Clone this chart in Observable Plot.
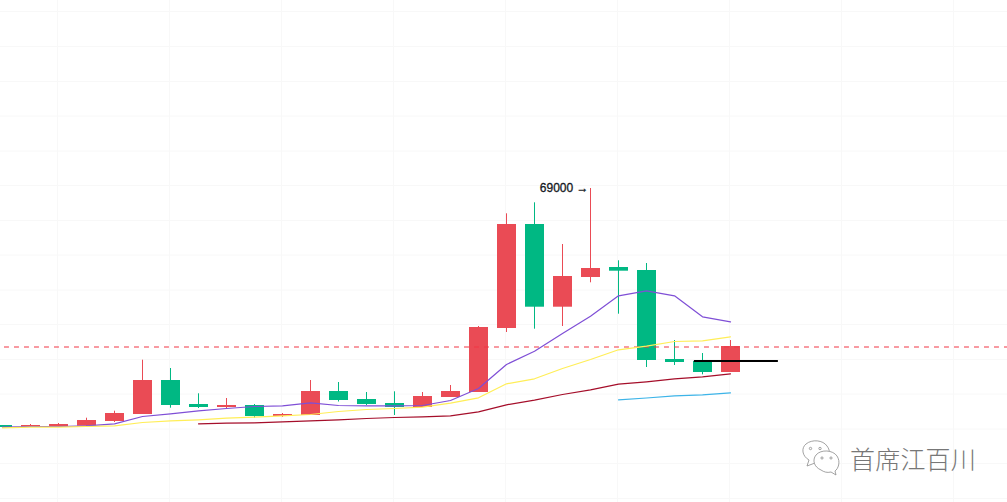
<!DOCTYPE html>
<html>
<head>
<meta charset="utf-8">
<script src="https://cdn.jsdelivr.net/npm/d3@7"></script>
<script src="https://cdn.jsdelivr.net/npm/@observablehq/plot@0.6"></script>
<style>
html,body{margin:0;padding:0;background:#fff;overflow:hidden}
#wrap{position:relative;width:1007px;height:502px}
#wm{position:absolute;left:850px;top:443px;font:25px/30px "Noto Sans CJK SC",sans-serif;font-weight:300;color:#777;letter-spacing:0.2px;white-space:nowrap}
#ic{position:absolute;left:799px;top:436px}
</style>
</head>
<body>
<div id="wrap">
<div id="chart"></div>
<svg id="ic" width="46" height="40" viewBox="0 0 46 40" fill="#fff" stroke="#8c8c8c" stroke-width="0.8">
  <path d="M10 24 C3 20 2 12 7 8 C13 3 24 4 28 10 C31 14 31 18 29 20 L22 30 L16 27 L8 30 Z"/>
  <circle cx="11.5" cy="12.5" r="1.2"/><circle cx="21" cy="12.5" r="1.2"/>
  <path d="M22 34 C15 31 13 24 17 19 C22 13 34 14 38 20 C42 26 39 33 36 35 L37 39 L32 36 C28 37 25 36 22 34 Z"/>
  <circle cx="23" cy="22" r="1.1"/><circle cx="32" cy="22" r="1.1"/>
</svg>
<div id="wm">首席江百川</div>
</div>
<script>
const opens  = [45300,45100,45150,45230,45700,46400,49800,47400,47100,47300,46200,46300,48700,47900,47500,47100,48100,48600,55000,65400,57130,60100,61100,60800,51900,51700,50600];
const closes = [45100,45300,45400,45800,46500,49800,47300,47100,47300,46200,46400,48700,47800,47400,47100,48200,48700,55100,65400,57130,60200,61000,60730,51800,51600,50600,53200];
const highs  = [45300,45400,45500,46030,46730,51830,51000,48470,48000,47400,46500,49800,49600,48600,48670,48600,49300,55200,66470,67570,63400,69000,61770,61500,53800,52500,53800];
const lows   = [45100,45100,45150,45230,45600,46400,47030,47000,46930,46030,46100,46300,47650,47300,46300,47100,48100,48600,54600,54930,55200,59570,56430,51100,51300,50370,50600];

const maPurple = [45130,45200,45200,45270,45470,46200,46470,46770,47000,47200,47270,47570,47300,47270,47270,47300,47800,49000,51400,52730,54500,56230,58270,58770,58270,56170,55670];
const maYellow = [45070,45130,45130,45200,45270,45600,45770,45870,46030,46130,46270,46400,46700,46900,47000,47130,47530,48070,49470,49970,51000,51900,52870,53230,53700,53770,54170];
const maRed    = [null,null,null,null,null,null,null,45470,45530,45570,45670,45770,45870,46000,46100,46170,46270,46670,47370,47830,48400,48870,49430,49670,49970,50170,50470];
const maBlue   = [null,null,null,null,null,null,null,null,null,null,null,null,null,null,null,null,null,null,null,null,null,null,47870,48050,48270,48370,48570];

const gridPrices = [86700,83200,79700,76250,72750,69300,65800,62350,58850,55400,51900,48450,44950,41500,38000];
const gridIndex  = [2,6,10,14,18,22,26,30,34];
const lastPrice  = 53150;
const supportPrice = 51750;
const supportFrom = 24.71, supportTo = 27.71;
const peakLabel = "69000 →";

const RED = "#EA4B55", GREEN = "#00B883";
const candles = opens.map((o,i)=>({i,o,c:closes[i],h:highs[i],l:lows[i],col:closes[i]>=o?RED:GREEN}));
const series = a => a.map((v,i)=>({i,v})).filter(d=>d.v!=null);
const half = 9.5/28;

const plot = Plot.plot({
  width:1007,height:502,margin:0,
  style:{background:"#fff"},
  x:{type:"linear",domain:[-2/28,1005/28],range:[0,1007],axis:null},
  y:{type:"linear",domain:[87800,37600],range:[0,502],axis:null},
  marks:[
    Plot.ruleY(gridPrices,{stroke:"#f8f8f8",strokeWidth:1}),
    Plot.ruleX(gridIndex,{stroke:"#f8f8f8",strokeWidth:1,dx:-1}),
    Plot.ruleX(candles,{x:"i",y1:"l",y2:"h",stroke:"col",strokeWidth:1}),
    Plot.rect(candles,{x1:d=>d.i-half,x2:d=>d.i+half,y1:"o",y2:"c",fill:"col",dx:0.5}),
    Plot.ruleY([lastPrice],{x1:0.07,x2:1005/28,stroke:"#F23645",strokeWidth:1.15,strokeDasharray:"5,5"}),
    Plot.line(series(maPurple),{x:"i",y:"v",stroke:"#7F4FD6",strokeWidth:1.2,curve:"linear"}),
    Plot.line(series(maYellow),{x:"i",y:"v",stroke:"#FFEE58",strokeWidth:1.2,curve:"linear"}),
    Plot.line(series(maRed),{x:"i",y:"v",stroke:"#A50E2A",strokeWidth:1.2,curve:"linear"}),
    Plot.line(series(maBlue),{x:"i",y:"v",stroke:"#3DB4E8",strokeWidth:1.2,curve:"linear"}),
    Plot.ruleY([supportPrice],{x1:supportFrom,x2:supportTo,stroke:"#000",strokeWidth:2}),
    Plot.text([{i:21,v:69000,t:peakLabel}],{x:"i",y:"v",text:"t",textAnchor:"end",dx:-2,fontSize:12,fontFamily:"'Liberation Sans', Arial, sans-serif",stroke:"#131722",strokeWidth:0.3,fill:"#131722"})
  ]
});
document.getElementById("chart").appendChild(plot);
</script>
</body>
</html>
